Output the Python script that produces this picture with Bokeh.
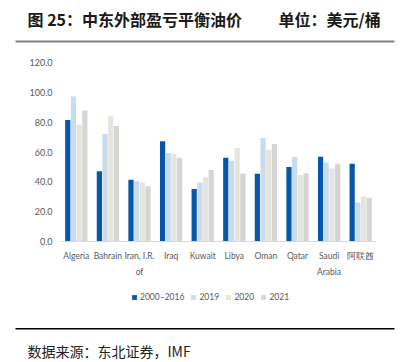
from bokeh.plotting import figure
from bokeh.layouts import column
from bokeh.models import (Label, Legend, LegendItem, BoxAnnotation, FixedTicker,
                          NumeralTickFormatter, ColumnDataSource, Range1d)
from bokeh.transform import dodge
from bokeh.embed import file_html
from bokeh.resources import INLINE

categories = ["Algeria", "Bahrain", "Iran, I.R.\nof", "Iraq", "Kuwait", "Libya",
              "Oman", "Qatar", "Saudi\nArabia", "阿联酋"]
series_names = ["2000–2016", "2019", "2020", "2021"]
v_2000_2016 = [81.5, 47.1, 41.4, 67.2, 35.2, 56.2, 45.4, 50.0, 56.8, 52.2]
v_2019 = [97.2, 72.0, 40.5, 59.3, 39.6, 54.2, 69.4, 56.6, 52.9, 26.2]
v_2020 = [78.2, 84.0, 39.6, 58.8, 43.0, 62.6, 61.5, 44.5, 48.9, 30.2]
v_2021 = [87.9, 77.5, 37.0, 56.2, 48.0, 45.6, 65.4, 45.6, 52.2, 29.3]
y_ticks = [0, 20, 40, 60, 80, 100, 120]

colors = ["#0757A8", "#C8DBEF", "#E7E4DC", "#D5D5D5"]
W = 403
FONT = "Lato"
GRAY = "#595959"


def strip(h):
    f = figure(width=W, height=h, x_range=Range1d(0, W), y_range=Range1d(0, h),
               x_axis_type=None, y_axis_type=None, output_backend="svg",
               toolbar_location=None, min_border=0)
    f.outline_line_color = None
    return f


def lab(fig, x, y, text, size, bold=False, color="#1a1a1a"):
    fig.add_layout(Label(x=x, y=y, x_units="screen", y_units="screen", text=text,
                         text_font="Noto Sans CJK SC", text_font_size=size,
                         text_font_style="bold" if bold else "normal",
                         text_color=color, text_baseline="middle", text_align="left"))


def hline(fig, x0, x1, y0, y1, color):
    fig.add_layout(BoxAnnotation(left=x0, right=x1, bottom=y0, top=y1,
                                 left_units="screen", right_units="screen",
                                 top_units="screen", bottom_units="screen",
                                 fill_color=color, fill_alpha=1, line_color=None))


# ---- title strip ----
top = strip(46)
lab(top, 27, 28, "图 25：中东外部盈亏平衡油价", "16px", True)
lab(top, 278, 28, "单位：美元/桶", "16px", True)
hline(top, 15, 394, 4, 6, "#808080")

# ---- chart ----
xs = list(range(len(categories)))
src = ColumnDataSource(dict(x=xs, a=v_2000_2016, b=v_2019, c=v_2020, d=v_2021))

p = figure(width=W, height=234, x_range=Range1d(-0.5, 9.5), y_range=Range1d(0, 120),
           output_backend="svg", toolbar_location=None,
           min_border_left=60, min_border_right=27, min_border_top=16, min_border_bottom=36)
p.outline_line_color = None
p.xgrid.grid_line_color = None
p.ygrid.grid_line_color = None

offsets = [-0.27, -0.09, 0.09, 0.27]
for col, off, c in zip(["a", "b", "c", "d"], offsets, colors):
    p.vbar(x=dodge("x", off, range=p.x_range), top=col, width=0.165, source=src,
           fill_color=c, line_color=None)

p.yaxis.ticker = FixedTicker(ticks=y_ticks)
p.yaxis.formatter = NumeralTickFormatter(format="0.0")
p.yaxis.axis_line_color = None
p.yaxis.major_tick_line_color = None
p.yaxis.major_tick_out = 0
p.yaxis.minor_tick_line_color = None
p.yaxis.major_label_standoff = 8
p.yaxis.major_label_text_color = GRAY
p.yaxis.major_label_text_font = FONT
p.yaxis.major_label_text_font_size = "9px"

p.xaxis.ticker = FixedTicker(ticks=xs)
p.xaxis.major_label_overrides = {i: categories[i] for i in xs}
p.xaxis.axis_line_color = "#D9D9D9"
p.xaxis.major_tick_line_color = None
p.xaxis.major_tick_out = 0
p.xaxis.minor_tick_line_color = None
p.xaxis.major_label_standoff = 9
p.xaxis.major_label_text_color = GRAY
p.xaxis.major_label_text_font = FONT
p.xaxis.major_label_text_font_size = "8.5px"
p.xaxis.major_label_text_line_height = 1.65

# ---- legend strip (legend glyphs taken from hidden copies of the series) ----
leg = strip(30)
items = []
for col, c, name in zip(["a", "b", "c", "d"], colors, series_names):
    r = leg.vbar(x="x", top=col, width=1, source=src, fill_color=c, line_color=None,
                 visible=False)
    items.append(LegendItem(label=name, renderers=[r]))
legend = Legend(items=items, orientation="horizontal", location=(131, 8),
                glyph_width=6, glyph_height=6, label_standoff=3, spacing=6,
                padding=0, margin=0, border_line_color=None, background_fill_alpha=0,
                inactive_fill_alpha=0, click_policy="none",
                label_text_font=FONT, label_text_font_size="8.5px",
                label_text_color=GRAY, label_height=9)
leg.add_layout(legend)

# ---- source strip ----
bot = strip(52)
hline(bot, 15, 394, 33, 34.5, "#000000")
lab(bot, 27, 12, "数据来源：东北证券，IMF", "14px", False, "#222222")

layout = column(column(top), column(p), column(leg), column(bot))
open("out.html", "w").write(file_html(layout, INLINE))
